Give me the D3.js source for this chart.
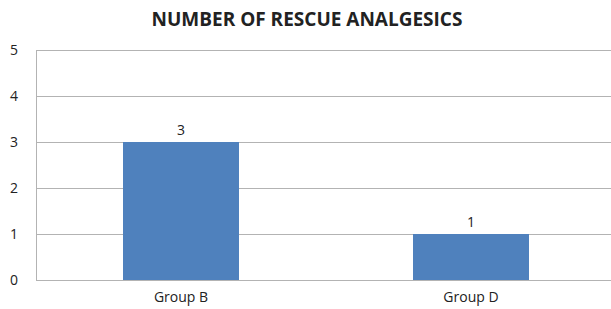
<!DOCTYPE html>
<html lang="en">
<head>
<meta charset="UTF-8">
<script src="https://d3js.org/d3.v7.min.js"></script>
<style>
  body { margin: 0; background: #fff; }
  text { font-family: "Open Sans", "Noto Sans", sans-serif; fill: #222; }
</style>
</head>
<body>
<div id="chart"></div>
<script>
// chart data
var groups = ["Group B", "Group D"];
var rescueCounts = [3, 1];
var yTicks = [0, 1, 2, 3, 4, 5];
var chartTitle = "NUMBER OF RESCUE ANALGESICS";

var width = 611, height = 309;
var margin = { top: 50, right: -5, bottom: 29, left: 36 };

var svg = d3.select("#chart").append("svg")
    .attr("width", width)
    .attr("height", height);

var x = d3.scaleBand()
    .domain(groups)
    .range([margin.left, width - margin.right])
    .paddingInner(0.6)
    .paddingOuter(0.3);

var y = d3.scaleLinear()
    .domain([0, 5])
    .range([height - margin.bottom, margin.top]);

// gridlines
svg.append("g")
  .selectAll("line")
  .data(yTicks)
  .enter().append("line")
    .attr("x1", margin.left)
    .attr("x2", width)
    .attr("y1", function(d) { return y(d) + 0.5; })
    .attr("y2", function(d) { return y(d) + 0.5; })
    .attr("stroke", "#b3b3b3")
    .attr("stroke-width", 1);

// left axis line
svg.append("line")
    .attr("x1", margin.left + 0.5)
    .attr("x2", margin.left + 0.5)
    .attr("y1", y(5))
    .attr("y2", y(0))
    .attr("stroke", "#b3b3b3");

// y tick labels
var yAxis = d3.axisLeft(y).tickValues(yTicks).tickFormat(d3.format("d")).tickSize(0).tickPadding(18);
var yg = svg.append("g")
    .attr("transform", "translate(" + margin.left + ",0)")
    .call(yAxis);
yg.select(".domain").remove();
yg.selectAll("text")
    .style("font-size", "14px")
    .attr("fill", "#222");

// bars
svg.selectAll(".bar")
    .data(rescueCounts)
    .enter().append("rect")
    .attr("class", "bar")
    .attr("x", function(d, i) { return x(groups[i]); })
    .attr("y", function(d) { return y(d); })
    .attr("width", x.bandwidth())
    .attr("height", function(d) { return y(0) - y(d); })
    .attr("fill", "#4f81bd");

// value labels
svg.selectAll(".val")
    .data(rescueCounts)
    .enter().append("text")
    .attr("class", "val")
    .attr("x", function(d, i) { return x(groups[i]) + x.bandwidth() / 2; })
    .attr("y", function(d) { return y(d) - 7; })
    .attr("text-anchor", "middle")
    .style("font-size", "14px")
    .text(function(d) { return d; });

// x labels
var xAxis = d3.axisBottom(x).tickSize(0).tickPadding(12);
var xg = svg.append("g")
    .attr("transform", "translate(0," + y(0) + ")")
    .call(xAxis);
xg.select(".domain").remove();
xg.selectAll("text")
    .style("font-size", "14px")
    .attr("fill", "#222");

// title
svg.append("text")
    .attr("x", 307)
    .attr("y", 26)
    .attr("text-anchor", "middle")
    .style("font-size", "19px")
    .style("font-weight", "bold")
    .text(chartTitle);
</script>
</body>
</html>
